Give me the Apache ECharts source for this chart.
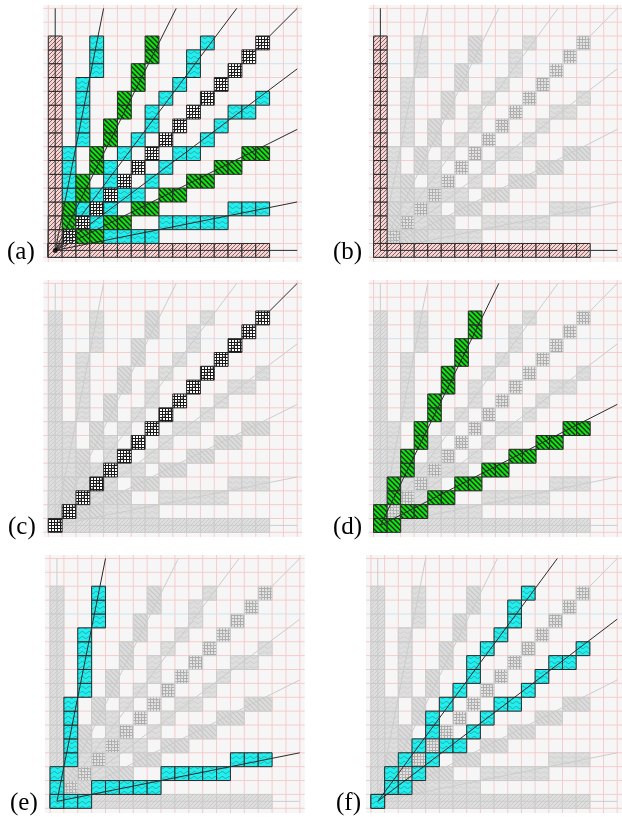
<!DOCTYPE html>
<html><head><meta charset="utf-8">
<script src="https://cdn.jsdelivr.net/npm/echarts@6/dist/echarts.min.js"></script>
<style>html,body{margin:0;padding:0;background:#fff}#c{width:622px;height:817px}</style>
</head><body><div id="c"></div>
<script>
// ---------- data ----------
const panelLabels = ['(a)', '(b)', '(c)', '(d)', '(e)', '(f)'];
const gridTicks = [-0.5, 0.5, 1.5, 2.5, 3.5, 4.5, 5.5, 6.5, 7.5, 8.5, 9.5, 10.5, 11.5, 12.5, 13.5, 14.5, 15.5, 16.5, 17.5];
const blueTick = 13.5;
const rayExtent = 17.5;

const cellsAxisV = [[0,0],[0,1],[0,2],[0,3],[0,4],[0,5],[0,6],[0,7],[0,8],[0,9],[0,10],[0,11],[0,12],[0,13],[0,14],[0,15]];
const cellsAxisH = [[0,0],[1,0],[2,0],[3,0],[4,0],[5,0],[6,0],[7,0],[8,0],[9,0],[10,0],[11,0],[12,0],[13,0],[14,0],[15,0]];
const cellsDiag = [[0,0],[1,1],[2,2],[3,3],[4,4],[5,5],[6,6],[7,7],[8,8],[9,9],[10,10],[11,11],[12,12],[13,13],[14,14],[15,15]];
const cellsSlope2 = [[0,0],[0,1],[1,2],[1,3],[2,4],[2,5],[3,6],[3,7],[4,8],[4,9],[5,10],[5,11],[6,12],[6,13],[7,14],[7,15]];
const cellsSlopeHalf = [[0,0],[1,0],[2,1],[3,1],[4,2],[5,2],[6,3],[7,3],[8,4],[9,4],[10,5],[11,5],[12,6],[13,6],[14,7],[15,7]];
const cellsSlope5 = [[0,0],[0,1],[0,2],[1,3],[1,4],[1,5],[1,6],[1,7],[2,8],[2,9],[2,10],[2,11],[2,12],[3,13],[3,14],[3,15]];
const cellsSlopeFifth = [[0,0],[1,0],[2,0],[3,1],[4,1],[5,1],[6,1],[7,1],[8,2],[9,2],[10,2],[11,2],[12,2],[13,3],[14,3],[15,3]];
const cellsSlope43 = [[0,0],[1,1],[1,2],[2,3],[3,4],[4,5],[4,6],[5,7],[6,8],[7,9],[7,10],[8,11],[9,12],[10,13],[10,14],[11,15]];
const cellsSlope34 = [[0,0],[1,1],[2,1],[3,2],[4,3],[5,4],[6,4],[7,5],[8,6],[9,7],[10,7],[11,8],[12,9],[13,10],[14,10],[15,11]];

const raysPink = [[0,1],[1,0]];
const raysBlack = [[1,1]];
const raysGreen = [[1,2],[2,1]];
const raysCyanA = [[1,5],[5,1]];
const raysCyanB = [[4,3],[3,4]];

// ---------- styles ----------
function pat(w, h, bg, draw) {
  const c = document.createElement('canvas'); c.width = w; c.height = h;
  const g = c.getContext('2d'); g.fillStyle = bg; g.fillRect(0, 0, w, h); draw(g, w, h);
  return { image: c, repeat: 'repeat' };
}
function hatchF(col, lw) { return function (g, n) { g.strokeStyle = col; g.lineWidth = lw; g.beginPath();
  g.moveTo(-1, n + 1); g.lineTo(n + 1, -1); g.moveTo(-2, 2); g.lineTo(2, -2); g.moveTo(n - 2, n + 2); g.lineTo(n + 2, n - 2); g.stroke(); }; }
function hatchB(col, lw) { return function (g, n) { g.strokeStyle = col; g.lineWidth = lw; g.beginPath();
  g.moveTo(-1, -1); g.lineTo(n + 1, n + 1); g.moveTo(-2, n - 2); g.lineTo(2, n + 2); g.moveTo(n - 2, -2); g.lineTo(n + 2, 2); g.stroke(); }; }
function wave(col, lw) { return function (g, w, h) { g.strokeStyle = col; g.lineWidth = lw; g.beginPath();
  for (let x = 0; x <= w; x += 0.25) { const y = h / 2 + 1.0 * Math.sin(2 * Math.PI * x / w); if (x === 0) g.moveTo(x, y); else g.lineTo(x, y); } g.stroke(); }; }
function grid(col) { return function (g, w, h) { g.fillStyle = col; g.fillRect(0, 0, w, 1); g.fillRect(0, 0, 1, h); }; }

const fills = {
  pink:  { on: pat(4, 4, '#f7d4d4', hatchF('#6e4b4b', 0.8)), off: pat(4, 4, '#dedede', hatchF('#c8c8c8', 0.8)) },
  green: { on: pat(5, 5, '#16e016', hatchB('#0a2a0a', 1.3)), off: pat(5, 5, '#dcdcdc', hatchB('#c6c6c6', 1.1)) },
  cyan:  { on: pat(7, 5, '#22eeee', wave('#2a8a8a', 0.7)), off: pat(7, 5, '#dedede', wave('#c8c8c8', 0.7)) },
  black: { on: pat(3, 3, '#ffffff', grid('#1a1a1a')), off: pat(3, 3, '#e4e4e4', grid('#adadad')) }
};

const groups = [
  { key: 'cyanA', kind: 'cyan', cells: cellsSlope5.concat(cellsSlopeFifth), rays: raysCyanA },
  { key: 'cyanB', kind: 'cyan', cells: cellsSlope43.concat(cellsSlope34), rays: raysCyanB },
  { key: 'green', kind: 'green', cells: cellsSlope2.concat(cellsSlopeHalf), rays: raysGreen },
  { key: 'black', kind: 'black', cells: cellsDiag, rays: raysBlack },
  { key: 'pink', kind: 'pink', cells: cellsAxisV.concat(cellsAxisH), rays: raysPink }
];

// ---------- layout ----------
const xMin = -0.86, xMax = 17.85, yMin = -0.84, yMax = 17.75;
const panels = [
  { X0: 48.3, Y0: 257.3, s: 13.83, hi: ['cyanA', 'cyanB', 'green', 'black', 'pink'], lx: 7 },
  { X0: 373.7, Y0: 257.3, s: 13.83, hi: ['pink'], lx: 333 },
  { X0: 48.3, Y0: 532.3, s: 13.83, hi: ['black'], lx: 8 },
  { X0: 373.7, Y0: 532.3, s: 13.83, hi: ['green'], lx: 333 },
  { X0: 50, Y0: 808.3, s: 13.88, hi: ['cyanA'], lx: 10 },
  { X0: 371, Y0: 808.3, s: 13.88, hi: ['cyanB'], lx: 336 }
];

const grids = [], xAxes = [], yAxes = [], series = [], graphics = [];

function cellSeries(pi, cells, fill, stroke, z) {
  return { type: 'custom', xAxisIndex: pi, yAxisIndex: pi, z: z, silent: true, animation: false,
    data: cells,
    renderItem: function (params, api) {
      const p = api.coord([api.value(0) - 0.5, api.value(1) + 0.5]);
      const sz = api.size([1, 1]);
      return { type: 'rect', shape: { x: p[0], y: p[1], width: sz[0], height: sz[1] },
        style: { fill: fill, stroke: stroke, lineWidth: 1 } };
    } };
}
function raySeries(pi, rays, color, z) {
  return { type: 'custom', xAxisIndex: pi, yAxisIndex: pi, z: z, silent: true, animation: false,
    data: rays,
    renderItem: function (params, api) {
      const dx = api.value(0), dy = api.value(1);
      const t = rayExtent / Math.max(dx, dy);
      const a = api.coord([0, 0]), b = api.coord([dx * t, dy * t]);
      return { type: 'line', shape: { x1: a[0], y1: a[1], x2: b[0], y2: b[1] },
        style: { stroke: color, lineWidth: 1 } };
    } };
}

panels.forEach(function (P, pi) {
  grids.push({ left: P.X0 - 0.36 * P.s, top: P.Y0 - 18.25 * P.s, width: 18.71 * P.s, height: 18.59 * P.s });
  xAxes.push({ type: 'value', gridIndex: pi, min: xMin, max: xMax, show: false });
  yAxes.push({ type: 'value', gridIndex: pi, min: yMin, max: yMax, show: false });
  series.push({ type: 'custom', xAxisIndex: pi, yAxisIndex: pi, z: 1, silent: true, animation: false,
    data: [[0, 0]],
    renderItem: function (params, api) {
      const tl = api.coord([xMin, yMax]), br = api.coord([xMax, yMin]);
      const ch = [{ type: 'rect', shape: { x: tl[0], y: tl[1], width: br[0] - tl[0], height: br[1] - tl[1] }, style: { fill: '#f6f6f6' } }];
      gridTicks.forEach(function (g) {
        const v = api.coord([g, 0])[0];
        ch.push({ type: 'line', shape: { x1: v, y1: tl[1], x2: v, y2: br[1] }, style: { stroke: '#f6cccc', lineWidth: 1 } });
        const h = api.coord([0, g])[1];
        ch.push({ type: 'line', shape: { x1: tl[0], y1: h, x2: br[0], y2: h }, style: { stroke: g === blueTick ? '#cfe3ef' : '#f6cccc', lineWidth: 1 } });
      });
      return { type: 'group', children: ch };
    } });
  let z = 2;
  const isAll = P.hi.length > 1;
  if (!isAll) {
    groups.forEach(function (G) { series.push(cellSeries(pi, G.cells, fills[G.kind].off, '#cbcbcb', z++)); });
    groups.forEach(function (G) { if (P.hi.indexOf(G.key) < 0) series.push(raySeries(pi, G.rays, '#cccccc', z++)); });
  }
  groups.forEach(function (G) { if (P.hi.indexOf(G.key) >= 0) series.push(cellSeries(pi, G.cells, fills[G.kind].on, '#2a2a2a', z++)); });
  groups.forEach(function (G) { if (P.hi.indexOf(G.key) >= 0) series.push(raySeries(pi, G.rays, '#2b2b2b', z++)); });
  if (isAll) {
    series.push({ type: 'scatter', xAxisIndex: pi, yAxisIndex: pi, z: z++, silent: true, animation: false,
      data: [[0, 0]], symbol: 'circle', symbolSize: 5, itemStyle: { color: '#000' } });
  }
  graphics.push({ type: 'text', left: P.lx, top: P.Y0 - 17, silent: true,
    style: { text: panelLabels[pi], fontSize: 25, fontFamily: 'Liberation Serif', fill: '#000' } });
});

const chart = echarts.init(document.getElementById('c'), null, { renderer: 'canvas' });
chart.setOption({ animation: false, grid: grids, xAxis: xAxes, yAxis: yAxes, series: series, graphic: graphics });
</script></body></html>
